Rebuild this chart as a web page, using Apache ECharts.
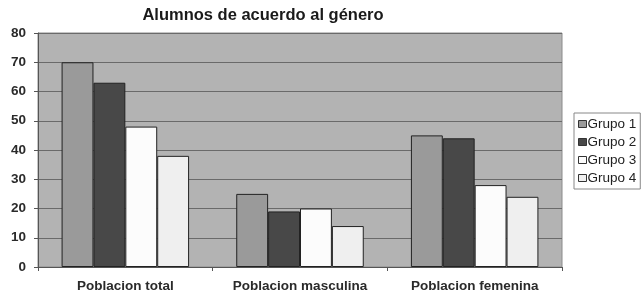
<!DOCTYPE html>
<html><head><meta charset="utf-8">
<script src="https://cdn.jsdelivr.net/npm/echarts@6/dist/echarts.min.js"></script>
<style>html,body{margin:0;padding:0;background:#fff}#c{width:642px;height:295px}</style>
</head><body><div id="c"></div>
<script>
var categories = ['Poblacion total', 'Poblacion masculina', 'Poblacion femenina'];
var seriesNames = ['Grupo 1', 'Grupo 2', 'Grupo 3', 'Grupo 4'];
var grupo1 = [70, 25, 45];
var grupo2 = [63, 19, 44];
var grupo3 = [48, 20, 28];
var grupo4 = [38, 14, 24];
var yTicks = [0, 10, 20, 30, 40, 50, 60, 70, 80];
var colors = ['#9a9a9a', '#484848', '#fcfcfc', '#efefef'];

var chart = echarts.init(document.getElementById('c'));
var data = [grupo1, grupo2, grupo3, grupo4];
chart.setOption({
  animation: false,
  title: {text: 'Alumnos de acuerdo al género', left: 258, top: 2, textAlign: 'center',
    textStyle: {fontFamily: 'Liberation Sans', fontSize: 16.5, fontWeight: 'bold', color: '#1a1a1a'}},
  legend: {
    orient: 'vertical', left: 574, top: 113, itemWidth: 8, itemHeight: 7, itemGap: 4,
    padding: [4, 4, 4, 4], borderColor: '#888', borderWidth: 1, backgroundColor: '#fff',
    icon: 'rect', itemStyle: {borderColor: '#333', borderWidth: 1},
    textStyle: {fontFamily: 'Liberation Sans', fontSize: 13.5, color: '#222', padding: [0,0,0,-4]},
    data: seriesNames
  },
  grid: {left: 38, right: 80, top: 33, bottom: 28, show: true, backgroundColor: '#b3b3b3', borderColor: '#8a8a8a', borderWidth: 1},
  xAxis: {type: 'category', data: categories,
    axisLine: {lineStyle: {color: '#555'}},
    axisTick: {show: true, length: 4, lineStyle: {color: '#555'}},
    axisLabel: {fontFamily: 'Liberation Sans', fontSize: 13.5, fontWeight: 'bold', color: '#2a2a2a', margin: 12}},
  yAxis: {type: 'value', min: yTicks[0], max: yTicks[yTicks.length-1], interval: 10,
    axisLine: {show: true, lineStyle: {color: '#555'}},
    axisTick: {show: true, length: 4, lineStyle: {color: '#555'}},
    splitLine: {lineStyle: {color: '#6a6a6a', width: 1}},
    axisLabel: {fontFamily: 'Liberation Sans', fontSize: 13.5, fontWeight: 'bold', color: '#2a2a2a', margin: 12}},
  series: seriesNames.map(function(n, i){
    return {name: n, type: 'bar', data: data[i], barGap: '0%', barCategoryGap: '27%',
      itemStyle: {color: colors[i], borderColor: '#222', borderWidth: 1}};
  })
});
</script></body></html>
